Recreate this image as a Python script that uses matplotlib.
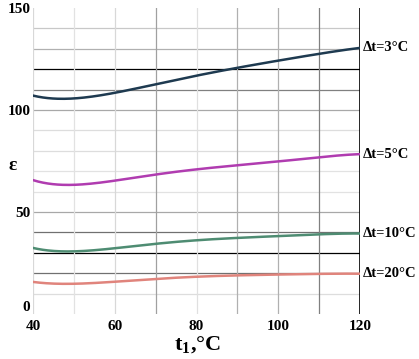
import matplotlib
matplotlib.use("Agg")
from matplotlib import pyplot as plt
import numpy as np

plt.rcParams['mathtext.fontset'] = 'custom'
plt.rcParams['mathtext.rm'] = 'Liberation Serif:bold'
plt.rcParams['mathtext.bf'] = 'Liberation Serif:bold'

# t1, degC
t1 = [40, 44, 48, 52, 56, 60, 70, 80, 90, 100, 110, 120]
# epsilon curves
eps_3 = [107.0, 105.8, 105.5, 106.0, 107.0, 108.3, 112.7, 116.8, 120.6, 124.2, 127.5, 130.4]
eps_5 = [65.8, 63.6, 63.2, 63.6, 64.5, 65.5, 68.2, 70.8, 73.0, 74.9, 76.7, 78.4]
eps_10 = [32.5, 31.0, 30.6, 30.9, 31.6, 32.4, 34.3, 36.1, 37.4, 38.3, 39.0, 39.5]
eps_20 = [15.8, 15.0, 14.8, 15.0, 15.4, 15.9, 17.2, 18.3, 19.0, 19.4, 19.7, 19.8]
labels = ["\u0394t=3\u00b0C", "\u0394t=5\u00b0C", "\u0394t=10\u00b0C", "\u0394t=20\u00b0C"]
colors = ["#1e3a50", "#b03cb0", "#4e8c72", "#e0847c"]

fig = plt.figure(figsize=(4.19, 3.59), dpi=100)
ax = fig.add_axes([0.079, 0.125, 0.780, 0.853])

# grid lines (some darker like in the original)
hgrid = {10: "#dddddd", 20: "#707070", 30: "#000000", 40: "#707070", 50: "#a8a8a8",
         60: "#e2e2e2", 70: "#e2e2e2", 80: "#dddddd", 90: "#dddddd", 100: "#a8a8a8",
         110: "#808080", 120: "#000000", 130: "#b0b0b0", 140: "#c8c8c8"}
vgrid = {40: "#d8d8d8", 50: "#e2e2e2", 60: "#d8d8d8", 70: "#a0a0a0", 80: "#e0e0e0",
         90: "#b0b0b0", 100: "#b0b0b0", 110: "#808080", 120: "#000000"}
for yv, c in hgrid.items():
    ax.axhline(yv, color=c, lw=0.9, zorder=1)
for xv, c in vgrid.items():
    ax.axvline(xv, color=c, lw=1.2 if xv == 120 else 0.9, zorder=1)

xs = np.linspace(40, 120, 200)
for ys, c, lab in zip([eps_3, eps_5, eps_10, eps_20], colors, labels):
    coef = np.polyfit(t1, ys, 5)
    ax.plot(xs, np.polyval(coef, xs), color=c, lw=1.8, zorder=3)
    ax.text(120.6, ys[-1], lab, fontsize=10.5, fontweight="bold", family="Liberation Serif",
            va="center", ha="left", clip_on=False)

ax.set_xlim(40, 120)
ax.set_ylim(0, 150)
for s in ax.spines.values():
    s.set_visible(False)
ax.tick_params(length=0)
ax.set_xticks([40, 60, 80, 100, 120])
ax.set_yticks([0, 50, 100, 150])
for lab in ax.get_xticklabels() + ax.get_yticklabels():
    lab.set_family("Liberation Serif")
    lab.set_fontweight("bold")
    lab.set_fontsize(11)
ax.get_yticklabels()[0].set_verticalalignment("bottom")
ax.tick_params(axis="x", pad=4)
ax.tick_params(axis="y", pad=2)

fig.text(0.03, 0.54, "\u03b5", fontsize=14, fontweight="bold", family="Liberation Serif",
         ha="center", va="center")
fig.text(0.47, 0.038, "t$_{1}$,\u00b0C", fontsize=16, fontweight="bold",
         family="Liberation Serif", ha="center", va="center")

fig.savefig("out.png", dpi=100)
